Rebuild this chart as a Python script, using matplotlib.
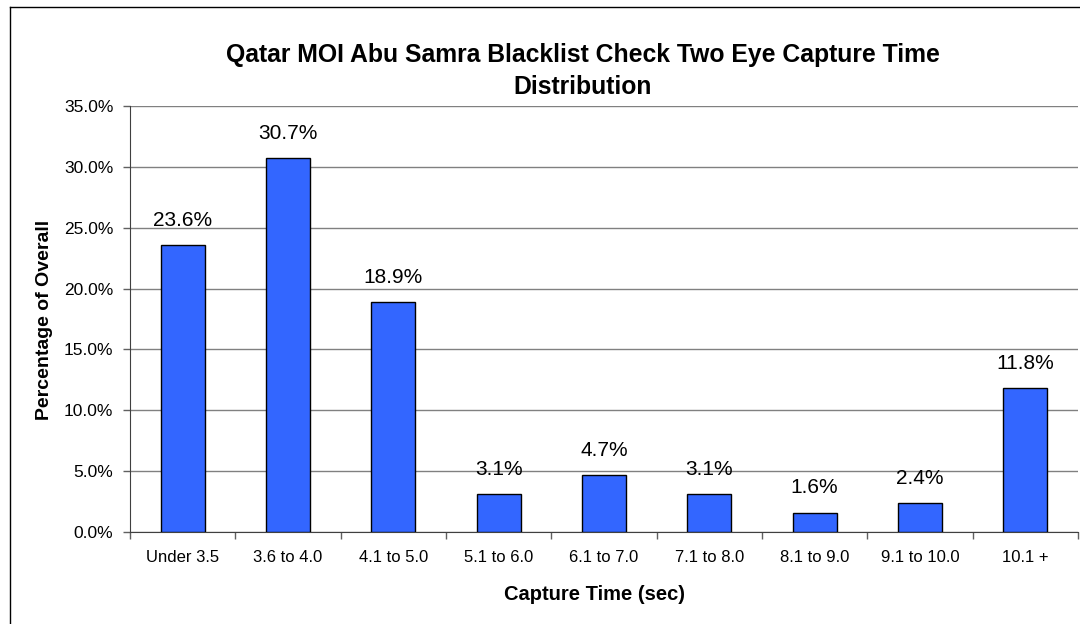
import matplotlib
matplotlib.use("Agg")
import matplotlib.pyplot as plt
from matplotlib.ticker import FuncFormatter, FixedLocator, NullFormatter
from matplotlib.lines import Line2D

categories = ["Under 3.5", "3.6 to 4.0", "4.1 to 5.0", "5.1 to 6.0", "6.1 to 7.0",
              "7.1 to 8.0", "8.1 to 9.0", "9.1 to 10.0", "10.1 +"]
values = [23.6, 30.7, 18.9, 3.1, 4.7, 3.1, 1.6, 2.4, 11.8]
yticks = [0, 5, 10, 15, 20, 25, 30, 35]

plt.rcParams['font.family'] = ['Liberation Sans', 'DejaVu Sans']

W, H = 1080, 624
fig = plt.figure(figsize=(W/100, H/100), dpi=100)
ax = fig.add_axes([130/W, 1 - 532/H, (1078-130)/W, (532-106)/H])

x = list(range(len(categories)))
ax.bar(x, values, width=0.42, color="#3366FF", edgecolor="black", linewidth=1.0, zorder=3)
for xi, v in zip(x, values):
    ax.text(xi, v + 1.25, f"{v:.1f}%", ha="center", va="bottom", fontsize=15, color="black")

ax.set_xlim(-0.5, len(categories) - 0.5)
ax.set_ylim(0, 35)
ax.set_yticks(yticks)
ax.yaxis.set_major_formatter(FuncFormatter(lambda v, p: f"{v:.1f}%"))
ax.grid(axis="y", color="#808080", linewidth=1.0, zorder=0)
ax.set_axisbelow(True)

ax.set_xticks(x)
ax.set_xticklabels(categories, fontsize=12)
ax.tick_params(axis="x", which="major", length=0, pad=13)
ax.xaxis.set_minor_locator(FixedLocator([i + 0.5 for i in range(-1, len(categories))]))
ax.xaxis.set_minor_formatter(NullFormatter())
ax.tick_params(axis="x", which="minor", length=5, width=1, color="#606060")
ax.tick_params(axis="y", length=5, width=1, color="#606060", labelsize=12.5, pad=7)

for s in ["top", "right"]:
    ax.spines[s].set_visible(False)
ax.spines["left"].set_color("#404040")
ax.spines["bottom"].set_color("#404040")

fig.text(583/W, 1 - 71/H, "Qatar MOI Abu Samra Blacklist Check Two Eye Capture Time\nDistribution",
         ha="center", va="center", fontsize=17.8, fontweight="bold", linespacing=1.38)
fig.text(594/W, 1 - 594/H, "Capture Time (sec)", ha="center", va="center",
         fontsize=14.5, fontweight="bold")
fig.text(45/W, 1 - 320/H, "Percentage of Overall", ha="center", va="center",
         fontsize=14, fontweight="bold", rotation=90)

# outer chart frame (extends beyond right and bottom)
fig.add_artist(Line2D([9.5/W, 9.5/W], [0, 1 - 6.5/H], color="black", linewidth=1.0))
fig.add_artist(Line2D([9.5/W, 1], [1 - 6.5/H, 1 - 6.5/H], color="black", linewidth=1.0))

fig.savefig("out.png", dpi=100, facecolor="white")
